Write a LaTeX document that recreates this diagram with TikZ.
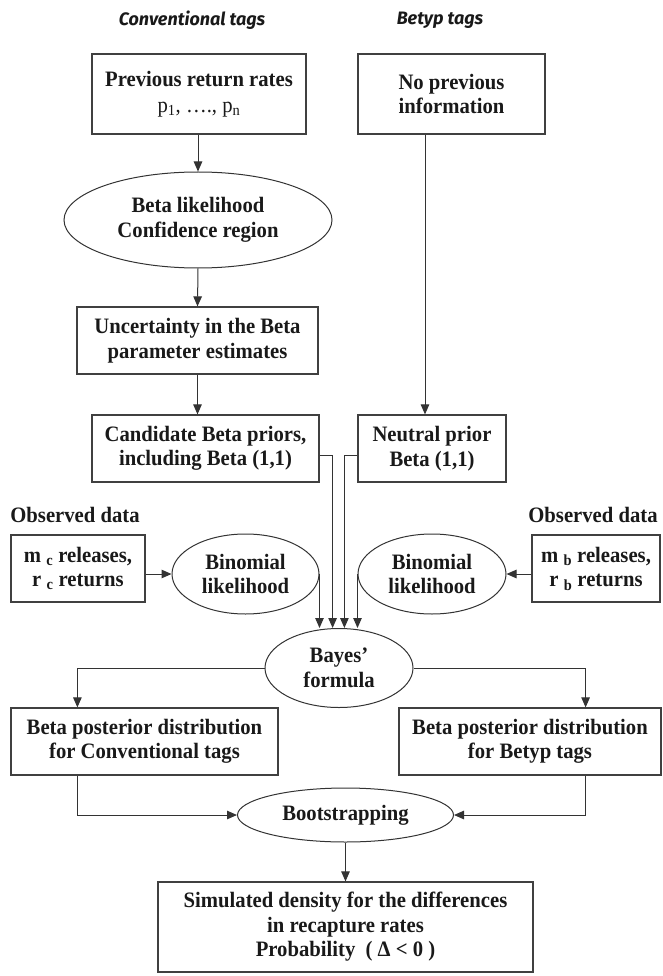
\documentclass[tikz,border=0pt]{standalone}
\usepackage{fontspec}
\setmainfont{Liberation Serif}[FakeStretch=0.94]
\newfontfamily\headfont{Fira Sans}
\usetikzlibrary{arrows.meta,shapes.geometric,calc}
\begin{document}
\begin{tikzpicture}[x=1pt,y=-1pt,
  every node/.style={font=\fontsize{22}{24.5}\selectfont\bfseries, text=black!90, align=center, inner sep=0pt},
  boxn/.style={draw=black!75, line width=1.2pt, rectangle},
  elln/.style={draw=black!80, line width=1pt, ellipse},
  headn/.style={font=\headfont\bfseries\itshape\fontsize{18}{20}\selectfont},
  conn/.style={draw=black!80, line width=1pt, -{Triangle[length=10pt,width=8.5pt]}},
  plainln/.style={draw=black!60, line width=1pt, -{Triangle[length=10pt,width=8.5pt]}, color=black!80}]
\path[use as bounding box] (0,0) rectangle (662,976);

\node[headn] (h1) at (192,20) {Conventional tags};
\node[headn] (h2) at (440,20) {Betyp tags};

\node[boxn, minimum width=214pt, minimum height=80pt] (b1) at (199,94)
  {Previous return rates\\[1pt] {\mdseries p\textsubscript{1}, …., p\textsubscript{n}}};
\node[boxn, minimum width=187pt, minimum height=80pt] (b2) at (451.5,94)
  {No previous\\information};

\node[elln, minimum width=268pt, minimum height=96pt] (e1) at (198,220)
  {Beta likelihood\\Confidence region};

\node[boxn, minimum width=241pt, minimum height=67pt] (b3) at (197.5,340.5)
  {Uncertainty in the Beta\\parameter estimates};

\node[boxn, minimum width=227pt, minimum height=67pt] (cand) at (205.5,448.5)
  {Candidate Beta priors,\\including Beta (1,1)};
\node[boxn, minimum width=148pt, minimum height=67pt] (neut) at (432,448.5)
  {Neutral prior\\Beta (1,1)};

\node (obsL) at (75,515) {Observed data};
\node (obsR) at (593,515) {Observed data};

\node[boxn, minimum width=134pt, minimum height=67pt] (dL) at (78,568.5)
  {m \textsubscript{c} releases,\\r \textsubscript{c} returns};
\node[boxn, minimum width=128pt, minimum height=67pt] (dR) at (596,568.5)
  {m \textsubscript{b} releases,\\r \textsubscript{b} returns};

\node[elln, minimum width=147pt, minimum height=80pt] (eL) at (245.5,574)
  {Binomial\\likelihood};
\node[elln, minimum width=148pt, minimum height=80pt] (eR) at (432,574)
  {Binomial\\likelihood};

\node[elln, minimum width=148pt, minimum height=79pt] (bayes) at (339,668)
  {Bayes’\\formula};

\node[boxn, minimum width=267pt, minimum height=67pt] (pL) at (144.5,741.5)
  {Beta posterior distribution\\for Conventional tags};
\node[boxn, minimum width=262pt, minimum height=67pt] (pR) at (530,741.5)
  {Beta posterior distribution\\for Betyp tags};

\node[elln, minimum width=216pt, minimum height=54pt] (boot) at (345.5,815)
  {Bootstrapping};

\node[boxn, minimum width=375pt, minimum height=90pt] (fin) at (345.5,927)
  {Simulated density for the differences\\in recapture rates\\Probability~~( Δ < 0 )};

% connectors
\draw[conn] (b1.south -| e1.north) -- (e1.north);
\draw[conn] (e1.south) -- (b3.north);
\draw[conn] (b3.south) -- (b3.south |- cand.north);
\coordinate (nx) at ([xshift=-7pt]neut.north);
\draw[conn] (nx |- b2.south) -- (nx);

\coordinate (c1) at ([xshift=13pt,yshift=-6.5pt]cand.east);
\coordinate (c2) at ([xshift=-13pt,yshift=-6.5pt]neut.west);
\draw[plainln] ([yshift=-6.5pt]cand.east) -- (c1) -- (c1 |- bayes.north);
\draw[plainln] ([yshift=-6.5pt]neut.west) -- (c2) -- (c2 |- bayes.north);
\draw[conn] (eL.east) -- (eL.east |- bayes.north);
\draw[conn] (eR.west) -- (eR.west |- bayes.north);

\draw[conn] (dL.east |- eL.west) -- (eL.west);
\draw[conn] (dR.west |- eR.east) -- (eR.east);

\coordinate (pl) at ([xshift=67pt]pL.north west);
\coordinate (pr) at ([xshift=-76pt]pR.north east);
\draw[conn] (bayes.west) -| (pl);
\draw[conn] (bayes.east) -| (pr);
\draw[conn] (pl |- pL.south) |- (boot.west);
\draw[conn] (pr |- pR.south) |- (boot.east);
\draw[conn] (boot.south) -- (fin.north);
\end{tikzpicture}
\end{document}
